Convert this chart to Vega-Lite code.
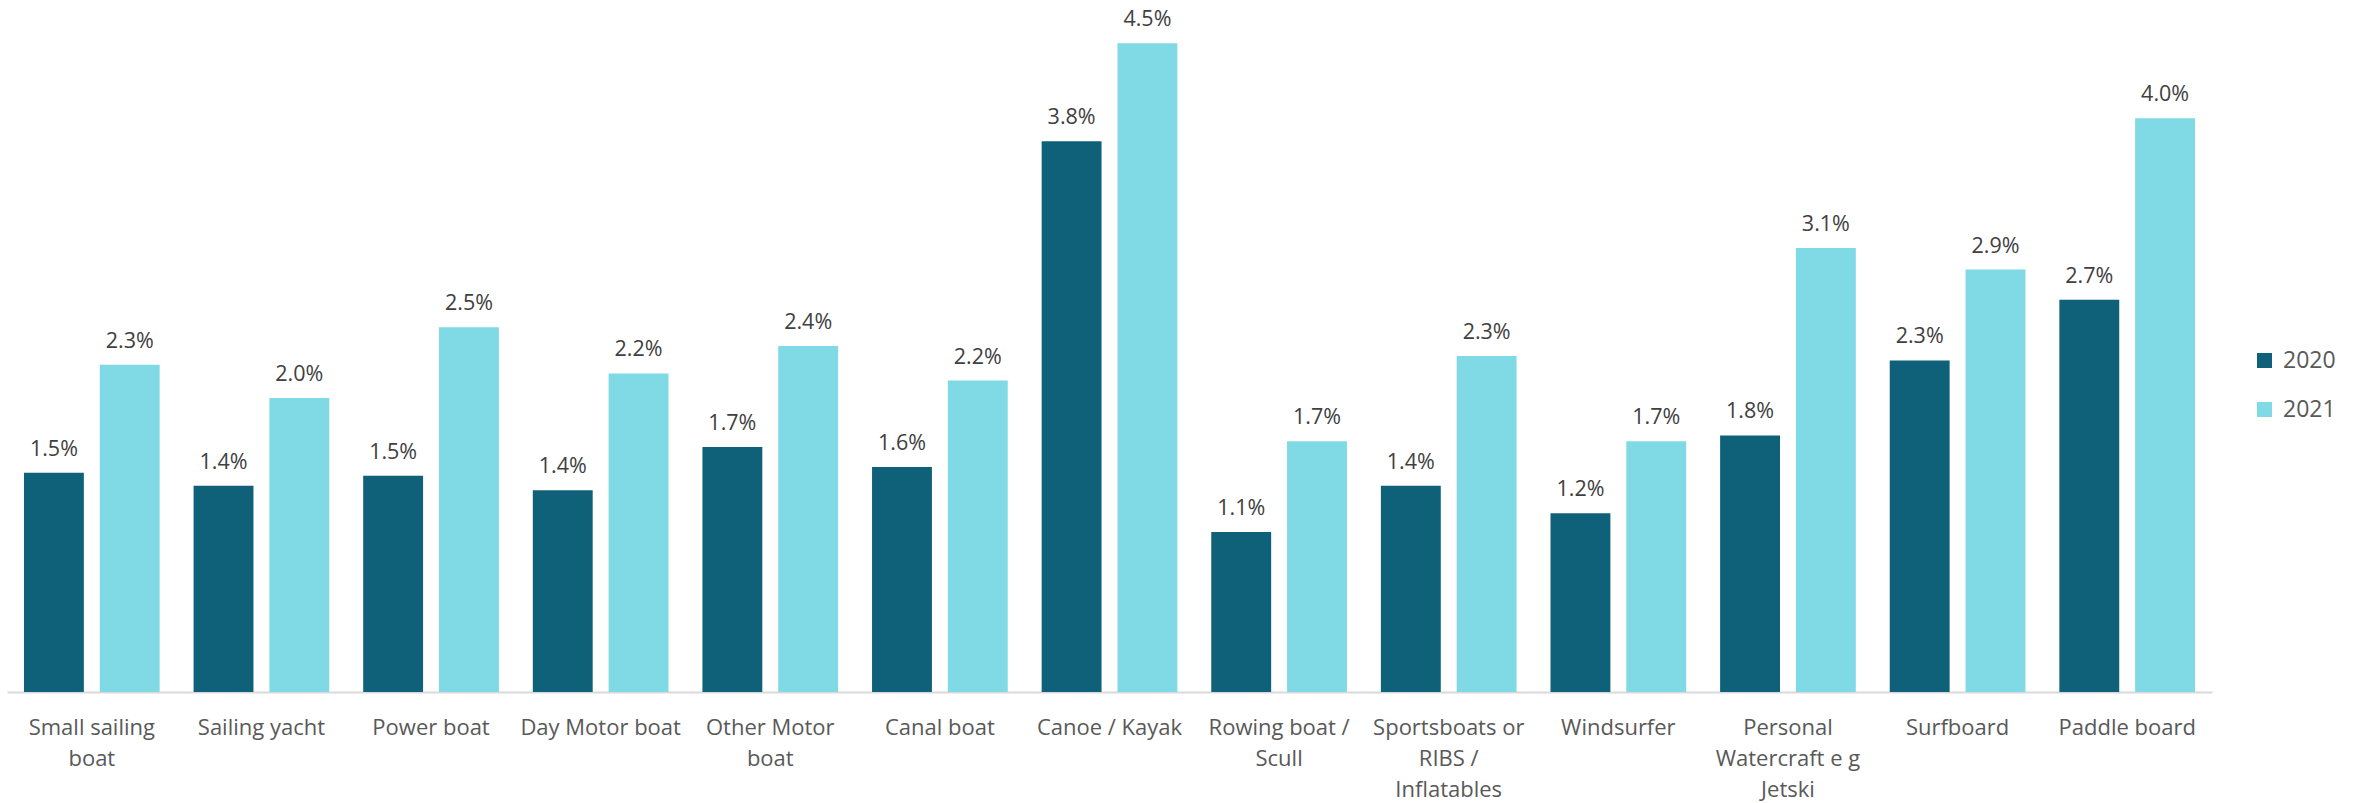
{
  "$schema": "https://vega.github.io/schema/vega-lite/v6.json",
  "width": 2205,
  "height": 692,
  "autosize": {"type": "none"},
  "padding": {"left": 7, "top": 0, "right": 141, "bottom": 111},
  "background": "white",
  "config": {"view": {"stroke": null}, "font": "Open Sans"},
  "data": {
    "values": [
      {"category": "Small sailing|boat", "year": "2020", "value": 0.0152},
      {"category": "Small sailing|boat", "year": "2021", "value": 0.0227},
      {"category": "Sailing yacht", "year": "2020", "value": 0.0143},
      {"category": "Sailing yacht", "year": "2021", "value": 0.0204},
      {"category": "Power boat", "year": "2020", "value": 0.0150},
      {"category": "Power boat", "year": "2021", "value": 0.0253},
      {"category": "Day Motor boat", "year": "2020", "value": 0.0140},
      {"category": "Day Motor boat", "year": "2021", "value": 0.0221},
      {"category": "Other Motor|boat", "year": "2020", "value": 0.0170},
      {"category": "Other Motor|boat", "year": "2021", "value": 0.0240},
      {"category": "Canal boat", "year": "2020", "value": 0.0156},
      {"category": "Canal boat", "year": "2021", "value": 0.0216},
      {"category": "Canoe / Kayak", "year": "2020", "value": 0.0382},
      {"category": "Canoe / Kayak", "year": "2021", "value": 0.0450},
      {"category": "Rowing boat /|Scull", "year": "2020", "value": 0.0111},
      {"category": "Rowing boat /|Scull", "year": "2021", "value": 0.0174},
      {"category": "Sportsboats or|RIBS /|Inflatables", "year": "2020", "value": 0.0143},
      {"category": "Sportsboats or|RIBS /|Inflatables", "year": "2021", "value": 0.0233},
      {"category": "Windsurfer", "year": "2020", "value": 0.0124},
      {"category": "Windsurfer", "year": "2021", "value": 0.0174},
      {"category": "Personal|Watercraft e g|Jetski", "year": "2020", "value": 0.0178},
      {"category": "Personal|Watercraft e g|Jetski", "year": "2021", "value": 0.0308},
      {"category": "Surfboard", "year": "2020", "value": 0.0230},
      {"category": "Surfboard", "year": "2021", "value": 0.0293},
      {"category": "Paddle board", "year": "2020", "value": 0.0272},
      {"category": "Paddle board", "year": "2021", "value": 0.0398}
    ]
  },
  "encoding": {
    "x": {
      "field": "category",
      "type": "nominal",
      "sort": null,
      "scale": {"paddingInner": 0.2, "paddingOuter": 0.1},
      "axis": {
        "title": null,
        "labelAngle": 0,
        "ticks": false,
        "domainColor": "#D9D9D9",
        "domainWidth": 2,
        "labelFontSize": 22,
        "labelColor": "#595959",
        "labelPadding": 25,
        "labelBaseline": "top",
        "labelLineHeight": 31,
        "labelExpr": "split(datum.label, '|')"
      }
    },
    "xOffset": {"field": "year", "type": "nominal", "scale": {"paddingInner": 0.21}},
    "y": {"field": "value", "type": "quantitative", "scale": {"domain": [0, 0.048]}, "axis": null}
  },
  "layer": [
    {
      "mark": {"type": "bar"},
      "encoding": {
        "color": {
          "field": "year",
          "type": "nominal",
          "scale": {"domain": ["2020", "2021"], "range": ["#0E6178", "#80DAE5"]},
          "legend": {
            "title": null,
            "orient": "none",
            "legendX": 2246,
            "legendY": 349,
            "symbolType": "square",
            "symbolSize": 225,
            "symbolStrokeWidth": 0,
            "labelFontSize": 23,
            "labelColor": "#595959",
            "labelOffset": 7,
            "rowPadding": 25
          }
        }
      }
    },
    {
      "mark": {"type": "text", "dy": -17, "baseline": "alphabetic", "fontSize": 21.5, "color": "#404040"},
      "encoding": {"text": {"field": "value", "type": "quantitative", "format": ".1%"}}
    }
  ]
}
